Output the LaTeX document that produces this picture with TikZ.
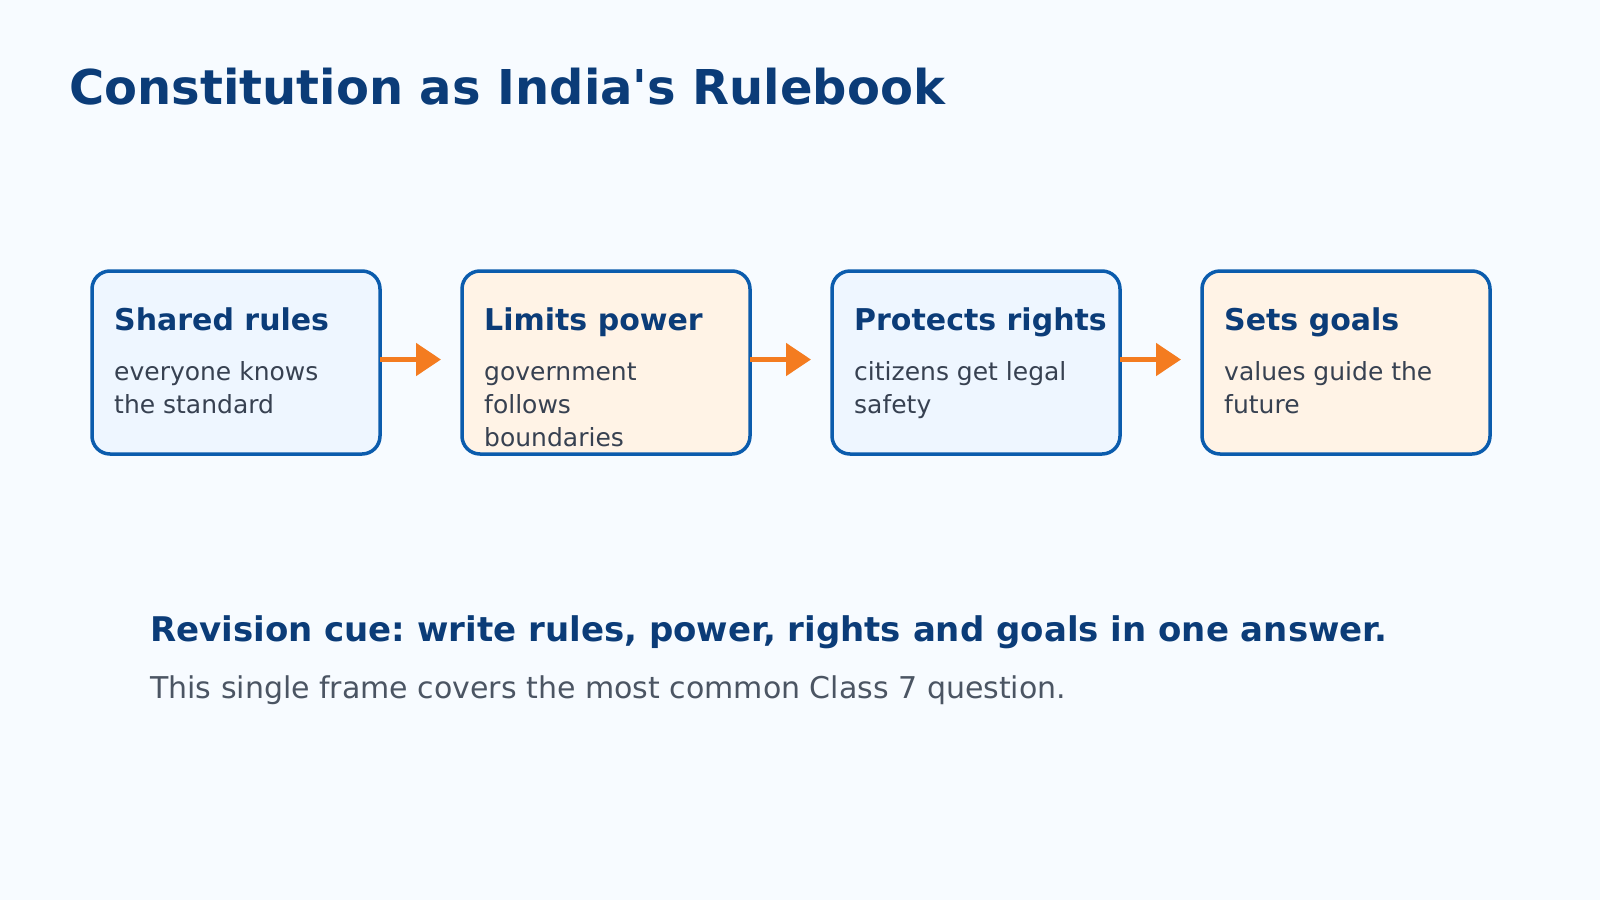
\documentclass[tikz,border=0pt]{standalone}
\usepackage{fontspec}
\setmainfont{DejaVu Sans}
\usetikzlibrary{positioning}
\usetikzlibrary{arrows.meta}

\definecolor{bgcol}{HTML}{F7FBFF}
\definecolor{navy}{HTML}{0B3C78}
\definecolor{edgeblue}{HTML}{0B5CAD}
\definecolor{fillblue}{HTML}{EEF6FF}
\definecolor{fillorange}{HTML}{FFF3E6}
\definecolor{bodygray}{HTML}{374151}
\definecolor{subgray}{HTML}{4B5563}
\definecolor{flowor}{HTML}{F47C20}

\tikzset{
	card/.style={draw=edgeblue, line width=3.5pt, rounded corners=18pt, minimum width=288pt, minimum height=183pt, outer sep=0pt, inner sep=0pt},
	head/.style={anchor=base west, inner sep=0pt, text=navy, font=\fontsize{30}{34}\selectfont\bfseries},
	body/.style={anchor=base west, inner sep=0pt, text=bodygray, align=left, font=\fontsize{25}{33}\selectfont},
	flow/.style={draw=flowor, line width=5pt, -{Triangle[length=25pt,width=32pt]}, shorten >=21pt}
}

\begin{document}
\frenchspacing
\begin{tikzpicture}[x=1pt, y=-1pt]
		\fill[bgcol] (0,0) rectangle (1600,900);
		\node[anchor=base west, inner sep=0pt, text=navy, font=\fontsize{48}{56}\selectfont\bfseries] (Title) at (69,104) {Constitution as India\textquotesingle s Rulebook};
		\node[card, fill=fillblue, anchor=north west] (Rules) at (92,271) {};
		\node[card, fill=fillorange, right = 82pt of Rules] (Power) {};
		\node[card, fill=fillblue, right = 82pt of Power] (Rights) {};
		\node[card, fill=fillorange, right = 82pt of Rights] (Goals) {};
		% body nodes: base is the last line
		\node[head] (RulesH) at ([shift={(22pt,-59pt)}]Rules.north west) {Shared rules};
		\node[body] (RulesB) at ([shift={(22pt,-142pt)}]Rules.north west) {everyone knows\\the standard};
		\node[head] (PowerH) at ([shift={(22pt,-59pt)}]Power.north west) {Limits power};
		\node[body] (PowerB) at ([shift={(22pt,-175pt)}]Power.north west) {government\\follows\\boundaries};
		\node[head] (RightsH) at ([shift={(22pt,-59pt)}]Rights.north west) {Protects rights};
		\node[body] (RightsB) at ([shift={(22pt,-142pt)}]Rights.north west) {citizens get legal\\safety};
		\node[head] (GoalsH) at ([shift={(22pt,-59pt)}]Goals.north west) {Sets goals};
		\node[body] (GoalsB) at ([shift={(22pt,-142pt)}]Goals.north west) {values guide the\\future};
		\draw[flow] ([yshift=3pt]Rules.east) -- ([yshift=3pt]Power.west);
		\draw[flow] ([yshift=3pt]Power.east) -- ([yshift=3pt]Rights.west);
		\draw[flow] ([yshift=3pt]Rights.east) -- ([yshift=3pt]Goals.west);
		\node[anchor=base west, inner sep=0pt, text=navy, font=\fontsize{34}{40}\selectfont\bfseries] (Cue) at (150,641) {Revision cue: write rules, power, rights and goals in one answer.};
		\node[anchor=base west, inner sep=0pt, text=subgray, font=\fontsize{30}{36}\selectfont] (CueSub) at (150,698) {This single frame covers the most common Class 7 question.};
	\end{tikzpicture}
\end{document}
